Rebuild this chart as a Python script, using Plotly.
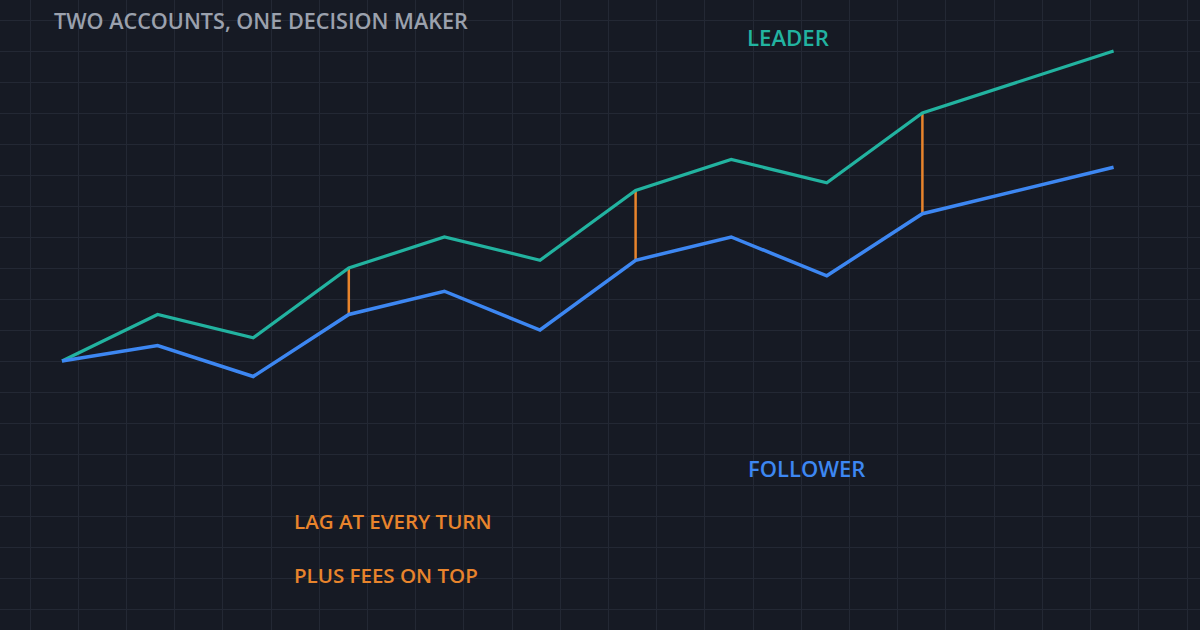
import plotly.graph_objects as go

# Data
steps = [0, 1, 2, 3, 4, 5, 6, 7, 8, 9, 11]
leader = [100, 115, 107.5, 130, 140, 132.5, 155, 165, 157.5, 180, 200]
follower = [100, 105, 95, 115, 122.5, 110, 132.5, 140, 127.5, 147.5, 162.5]
lag_steps = [3, 6, 9]

title_text = "TWO ACCOUNTS, ONE DECISION MAKER"
leader_label = "LEADER"
follower_label = "FOLLOWER"
note_lines = ["LAG AT EVERY TURN", "PLUS FEES ON TOP"]

BG = "#161a24"
GRID = "#232834"
TEAL = "#22b3a0"
BLUE = "#3d87f2"
ORANGE = "#e8842c"
FONT = "Open Sans"

fig = go.Figure()

# lag connectors
for s in lag_steps:
    i = steps.index(s)
    fig.add_trace(go.Scatter(x=[s, s], y=[follower[i], leader[i]], mode="lines",
                             line=dict(color=ORANGE, width=2.5), hoverinfo="skip",
                             showlegend=False))

fig.add_trace(go.Scatter(x=steps, y=leader, mode="lines", name="Leader",
                         line=dict(color=TEAL, width=3.2), showlegend=False))
fig.add_trace(go.Scatter(x=steps, y=follower, mode="lines", name="Follower",
                         line=dict(color=BLUE, width=3.5), showlegend=False))

px_per_x = 95.6
px_per_y = 3.1
x0 = -62 / px_per_x
x1 = (1200 - 62) / px_per_x
y_top = 100 + 361 / px_per_y
y_bot = 100 - (630 - 361) / px_per_y

fig.update_xaxes(range=[x0, x1], showgrid=True, gridcolor=GRID, gridwidth=1,
                 tick0=-32 / px_per_x, dtick=48.21 / px_per_x,
                 showticklabels=False, zeroline=False, showline=False, ticks="")
fig.update_yaxes(range=[y_bot, y_top], showgrid=True, gridcolor=GRID, gridwidth=1,
                 tick0=0, dtick=10,
                 showticklabels=False, zeroline=False, showline=False, ticks="")

def txt(x, y, t, color, size):
    fig.add_annotation(x=x, y=y, xref="paper", yref="paper", text=t, showarrow=False,
                       xanchor="left", yanchor="middle",
                       font=dict(family=FONT, size=size, color=color, weight=600))

txt(52 / 1200, 1 - 21 / 630, title_text, "#9ba1ad", 21.6)
txt(745 / 1200, 1 - 37 / 630, leader_label, TEAL, 22.2)
txt(746 / 1200, 1 - 468 / 630, follower_label, BLUE, 22)
txt(292 / 1200, 1 - 521 / 630, note_lines[0], ORANGE, 20.5)
txt(292 / 1200, 1 - 575 / 630, note_lines[1], ORANGE, 20.5)

fig.update_layout(width=1200, height=630, margin=dict(l=0, r=0, t=0, b=0),
                  paper_bgcolor=BG, plot_bgcolor=BG, showlegend=False,
                  hovermode=False)

fig.write_html("out.html", config={"displayModeBar": False, "staticPlot": True},
               post_script="document.body.style.margin='0';document.body.style.background='%s';" % BG)
